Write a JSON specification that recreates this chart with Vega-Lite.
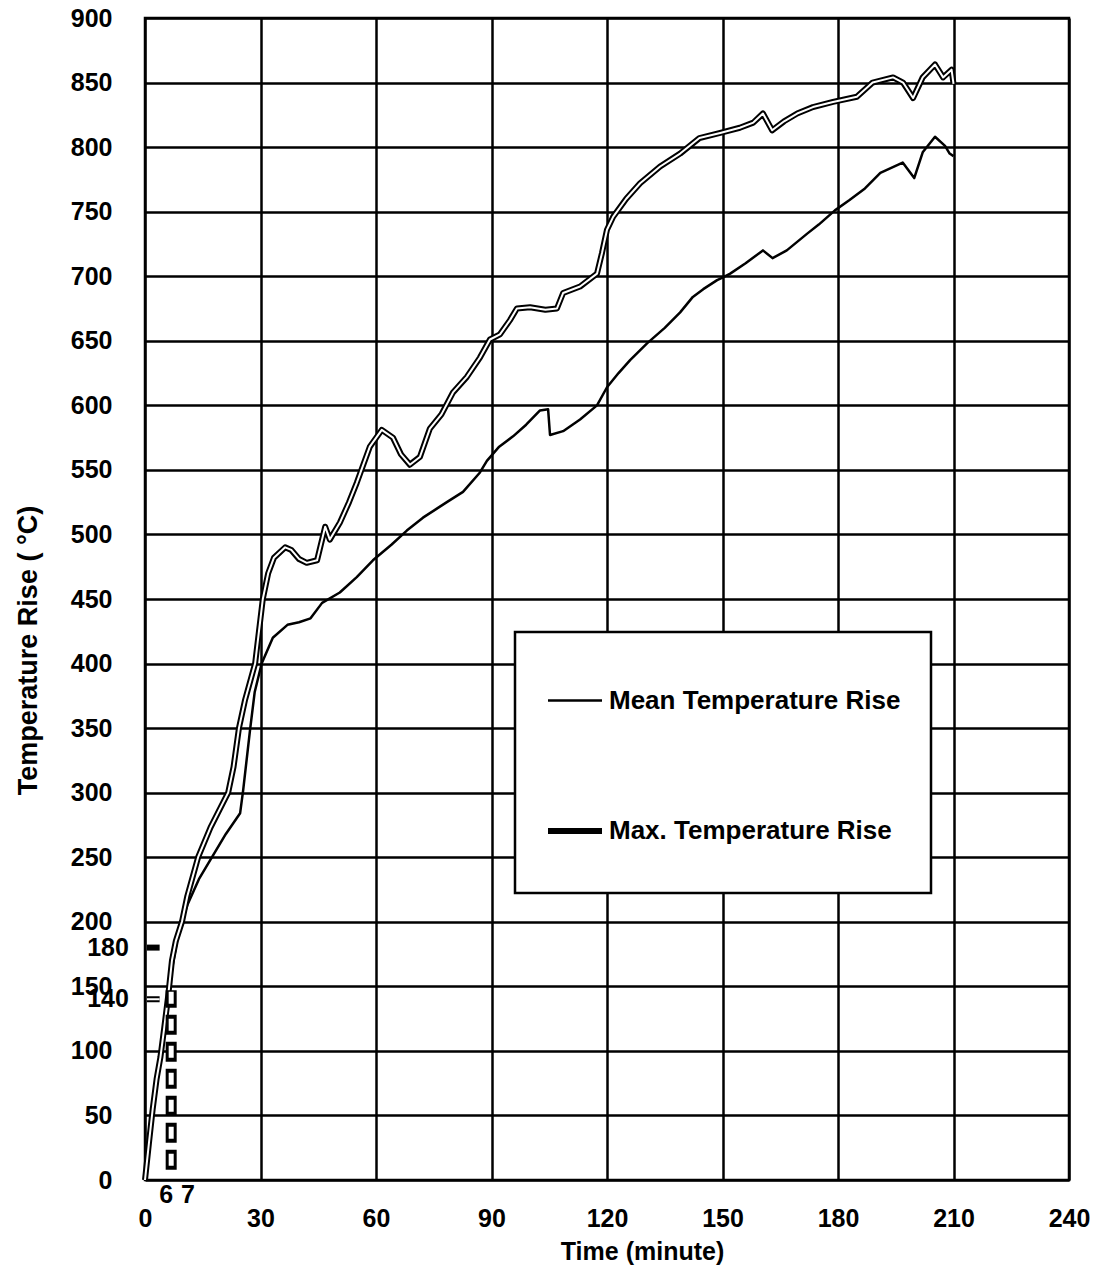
{
  "$schema": "https://vega.github.io/schema/vega-lite/v6.json",
  "width": 924,
  "height": 1162,
  "autosize": {"type": "none"},
  "padding": {"left": 145, "top": 18, "right": 34, "bottom": 91},
  "background": "white",
  "config": {
    "font": "Liberation Sans",
    "view": {"stroke": "black", "strokeWidth": 2.5},
    "axis": {
      "domain": false,
      "ticks": false,
      "grid": true,
      "gridColor": "black",
      "gridWidth": 2.5,
      "gridOpacity": 1,
      "labelFont": "Liberation Sans",
      "labelFontSize": 25,
      "labelFontWeight": "bold",
      "labelColor": "black",
      "labelFlush": false,
      "labelOverlap": false,
      "titleFont": "Liberation Sans",
      "titleFontWeight": "bold",
      "titleColor": "black"
    },
    "legend": {"strokeWidth": 2.5}
  },
  "datasets": {
    "curves": [
      {"s": "Mean Temperature Rise", "t": 0, "v": 0},
      {"s": "Mean Temperature Rise", "t": 1, "v": 25},
      {"s": "Mean Temperature Rise", "t": 2, "v": 50},
      {"s": "Mean Temperature Rise", "t": 3, "v": 72},
      {"s": "Mean Temperature Rise", "t": 4, "v": 95},
      {"s": "Mean Temperature Rise", "t": 5, "v": 118},
      {"s": "Mean Temperature Rise", "t": 6, "v": 140},
      {"s": "Mean Temperature Rise", "t": 7, "v": 163},
      {"s": "Mean Temperature Rise", "t": 8, "v": 180},
      {"s": "Mean Temperature Rise", "t": 9, "v": 195},
      {"s": "Mean Temperature Rise", "t": 11, "v": 213},
      {"s": "Mean Temperature Rise", "t": 14, "v": 233},
      {"s": "Mean Temperature Rise", "t": 17.4, "v": 250},
      {"s": "Mean Temperature Rise", "t": 21, "v": 268},
      {"s": "Mean Temperature Rise", "t": 24.7, "v": 284},
      {"s": "Mean Temperature Rise", "t": 25.5, "v": 302},
      {"s": "Mean Temperature Rise", "t": 27.3, "v": 349},
      {"s": "Mean Temperature Rise", "t": 28.5, "v": 378},
      {"s": "Mean Temperature Rise", "t": 30.3, "v": 400},
      {"s": "Mean Temperature Rise", "t": 33.2, "v": 420},
      {"s": "Mean Temperature Rise", "t": 37, "v": 430},
      {"s": "Mean Temperature Rise", "t": 40, "v": 432},
      {"s": "Mean Temperature Rise", "t": 43, "v": 435},
      {"s": "Mean Temperature Rise", "t": 46, "v": 447},
      {"s": "Mean Temperature Rise", "t": 50.6, "v": 455},
      {"s": "Mean Temperature Rise", "t": 55, "v": 467},
      {"s": "Mean Temperature Rise", "t": 59.2, "v": 480},
      {"s": "Mean Temperature Rise", "t": 64, "v": 492},
      {"s": "Mean Temperature Rise", "t": 68, "v": 503},
      {"s": "Mean Temperature Rise", "t": 72.2, "v": 513},
      {"s": "Mean Temperature Rise", "t": 75.8, "v": 520},
      {"s": "Mean Temperature Rise", "t": 78.4, "v": 525},
      {"s": "Mean Temperature Rise", "t": 82.6, "v": 533},
      {"s": "Mean Temperature Rise", "t": 87, "v": 548},
      {"s": "Mean Temperature Rise", "t": 88.8, "v": 557},
      {"s": "Mean Temperature Rise", "t": 92, "v": 568},
      {"s": "Mean Temperature Rise", "t": 95.6, "v": 576},
      {"s": "Mean Temperature Rise", "t": 99, "v": 585},
      {"s": "Mean Temperature Rise", "t": 102.6, "v": 596},
      {"s": "Mean Temperature Rise", "t": 104.7, "v": 597},
      {"s": "Mean Temperature Rise", "t": 105.2, "v": 577},
      {"s": "Mean Temperature Rise", "t": 108.6, "v": 580},
      {"s": "Mean Temperature Rise", "t": 113, "v": 589},
      {"s": "Mean Temperature Rise", "t": 117.4, "v": 600},
      {"s": "Mean Temperature Rise", "t": 120, "v": 614},
      {"s": "Mean Temperature Rise", "t": 123, "v": 625},
      {"s": "Mean Temperature Rise", "t": 126, "v": 635},
      {"s": "Mean Temperature Rise", "t": 130.4, "v": 648},
      {"s": "Mean Temperature Rise", "t": 135, "v": 660},
      {"s": "Mean Temperature Rise", "t": 139, "v": 672},
      {"s": "Mean Temperature Rise", "t": 142.3, "v": 684},
      {"s": "Mean Temperature Rise", "t": 145, "v": 690},
      {"s": "Mean Temperature Rise", "t": 148.6, "v": 697},
      {"s": "Mean Temperature Rise", "t": 150, "v": 699},
      {"s": "Mean Temperature Rise", "t": 152, "v": 702},
      {"s": "Mean Temperature Rise", "t": 156, "v": 710},
      {"s": "Mean Temperature Rise", "t": 160.5, "v": 720},
      {"s": "Mean Temperature Rise", "t": 163, "v": 714},
      {"s": "Mean Temperature Rise", "t": 166.7, "v": 720},
      {"s": "Mean Temperature Rise", "t": 172, "v": 733},
      {"s": "Mean Temperature Rise", "t": 175, "v": 740},
      {"s": "Mean Temperature Rise", "t": 179.2, "v": 751},
      {"s": "Mean Temperature Rise", "t": 183, "v": 759},
      {"s": "Mean Temperature Rise", "t": 187, "v": 768},
      {"s": "Mean Temperature Rise", "t": 191, "v": 780},
      {"s": "Mean Temperature Rise", "t": 196.8, "v": 788},
      {"s": "Mean Temperature Rise", "t": 199.8, "v": 776},
      {"s": "Mean Temperature Rise", "t": 202, "v": 796},
      {"s": "Mean Temperature Rise", "t": 205.2, "v": 808},
      {"s": "Mean Temperature Rise", "t": 207.8, "v": 801},
      {"s": "Mean Temperature Rise", "t": 209, "v": 795},
      {"s": "Mean Temperature Rise", "t": 210, "v": 793},
      {"s": "Max. Temperature Rise", "t": 0, "v": 0},
      {"s": "Max. Temperature Rise", "t": 1, "v": 28},
      {"s": "Max. Temperature Rise", "t": 2, "v": 55},
      {"s": "Max. Temperature Rise", "t": 3, "v": 78},
      {"s": "Max. Temperature Rise", "t": 4, "v": 95},
      {"s": "Max. Temperature Rise", "t": 5, "v": 118},
      {"s": "Max. Temperature Rise", "t": 6, "v": 142},
      {"s": "Max. Temperature Rise", "t": 7, "v": 170},
      {"s": "Max. Temperature Rise", "t": 8, "v": 185},
      {"s": "Max. Temperature Rise", "t": 9.6, "v": 200},
      {"s": "Max. Temperature Rise", "t": 11, "v": 220},
      {"s": "Max. Temperature Rise", "t": 13.8, "v": 250},
      {"s": "Max. Temperature Rise", "t": 17, "v": 273},
      {"s": "Max. Temperature Rise", "t": 21.6, "v": 300},
      {"s": "Max. Temperature Rise", "t": 23, "v": 320},
      {"s": "Max. Temperature Rise", "t": 24.4, "v": 350},
      {"s": "Max. Temperature Rise", "t": 26, "v": 372},
      {"s": "Max. Temperature Rise", "t": 28.6, "v": 400},
      {"s": "Max. Temperature Rise", "t": 29.8, "v": 430},
      {"s": "Max. Temperature Rise", "t": 30.6, "v": 450},
      {"s": "Max. Temperature Rise", "t": 32, "v": 470},
      {"s": "Max. Temperature Rise", "t": 33.5, "v": 482},
      {"s": "Max. Temperature Rise", "t": 36.4, "v": 490},
      {"s": "Max. Temperature Rise", "t": 38, "v": 488},
      {"s": "Max. Temperature Rise", "t": 40, "v": 481},
      {"s": "Max. Temperature Rise", "t": 42, "v": 478},
      {"s": "Max. Temperature Rise", "t": 44.7, "v": 480},
      {"s": "Max. Temperature Rise", "t": 46.8, "v": 506},
      {"s": "Max. Temperature Rise", "t": 48, "v": 496},
      {"s": "Max. Temperature Rise", "t": 50.6, "v": 509},
      {"s": "Max. Temperature Rise", "t": 53, "v": 525},
      {"s": "Max. Temperature Rise", "t": 55, "v": 540},
      {"s": "Max. Temperature Rise", "t": 58.4, "v": 568},
      {"s": "Max. Temperature Rise", "t": 61.5, "v": 581},
      {"s": "Max. Temperature Rise", "t": 64.4, "v": 575},
      {"s": "Max. Temperature Rise", "t": 66.5, "v": 562},
      {"s": "Max. Temperature Rise", "t": 68.8, "v": 554},
      {"s": "Max. Temperature Rise", "t": 71.4, "v": 560},
      {"s": "Max. Temperature Rise", "t": 74, "v": 582},
      {"s": "Max. Temperature Rise", "t": 77, "v": 593},
      {"s": "Max. Temperature Rise", "t": 80, "v": 610},
      {"s": "Max. Temperature Rise", "t": 83.6, "v": 622},
      {"s": "Max. Temperature Rise", "t": 87, "v": 637},
      {"s": "Max. Temperature Rise", "t": 89.6, "v": 651},
      {"s": "Max. Temperature Rise", "t": 92.2, "v": 655},
      {"s": "Max. Temperature Rise", "t": 94.8, "v": 666},
      {"s": "Max. Temperature Rise", "t": 96.6, "v": 675},
      {"s": "Max. Temperature Rise", "t": 100, "v": 676},
      {"s": "Max. Temperature Rise", "t": 104, "v": 674},
      {"s": "Max. Temperature Rise", "t": 107, "v": 675},
      {"s": "Max. Temperature Rise", "t": 108.6, "v": 687},
      {"s": "Max. Temperature Rise", "t": 113, "v": 692},
      {"s": "Max. Temperature Rise", "t": 117.4, "v": 702},
      {"s": "Max. Temperature Rise", "t": 118.7, "v": 718},
      {"s": "Max. Temperature Rise", "t": 120, "v": 736},
      {"s": "Max. Temperature Rise", "t": 121.6, "v": 746},
      {"s": "Max. Temperature Rise", "t": 125, "v": 760},
      {"s": "Max. Temperature Rise", "t": 128.6, "v": 772},
      {"s": "Max. Temperature Rise", "t": 133.8, "v": 785},
      {"s": "Max. Temperature Rise", "t": 139, "v": 795},
      {"s": "Max. Temperature Rise", "t": 144, "v": 807},
      {"s": "Max. Temperature Rise", "t": 149.4, "v": 811},
      {"s": "Max. Temperature Rise", "t": 154.5, "v": 815},
      {"s": "Max. Temperature Rise", "t": 158, "v": 819},
      {"s": "Max. Temperature Rise", "t": 160.5, "v": 826},
      {"s": "Max. Temperature Rise", "t": 162.9, "v": 813},
      {"s": "Max. Temperature Rise", "t": 166, "v": 820},
      {"s": "Max. Temperature Rise", "t": 169.4, "v": 826},
      {"s": "Max. Temperature Rise", "t": 173.5, "v": 831},
      {"s": "Max. Temperature Rise", "t": 178.7, "v": 835},
      {"s": "Max. Temperature Rise", "t": 184.9, "v": 839},
      {"s": "Max. Temperature Rise", "t": 189, "v": 850},
      {"s": "Max. Temperature Rise", "t": 194.3, "v": 854},
      {"s": "Max. Temperature Rise", "t": 196.9, "v": 850},
      {"s": "Max. Temperature Rise", "t": 199.5, "v": 838},
      {"s": "Max. Temperature Rise", "t": 202, "v": 854},
      {"s": "Max. Temperature Rise", "t": 205.2, "v": 864},
      {"s": "Max. Temperature Rise", "t": 207.3, "v": 854},
      {"s": "Max. Temperature Rise", "t": 209.5, "v": 860},
      {"s": "Max. Temperature Rise", "t": 210, "v": 849}
    ],
    "ymarks": [
      {"t": 0.5, "t2": 3.8, "v": 180, "label": "180"},
      {"t": 0.5, "t2": 3.8, "v": 140, "label": "140"}
    ],
    "xmarks": [
      {"t": 6, "v": 0, "label": "6"},
      {"t": 7, "v": 0, "label": "7"}
    ],
    "dashline": [
      {"t": 6.8, "v": 8, "v2": 147}
    ]
  },
  "encoding": {
    "x": {
      "field": "t",
      "type": "quantitative",
      "scale": {"domain": [0, 240], "nice": false},
      "axis": {
        "values": [0, 30, 60, 90, 120, 150, 180, 210, 240],
        "title": "Time (minute)",
        "titleFontSize": 25,
        "labelPadding": 26,
        "titlePadding": 8,
        "titleX": 497
      }
    },
    "y": {
      "field": "v",
      "type": "quantitative",
      "scale": {"domain": [0, 900], "nice": false},
      "axis": {
        "values": [0, 50, 100, 150, 200, 250, 300, 350, 400, 450, 500, 550, 600, 650, 700, 750, 800, 850, 900],
        "title": "Temperature Rise ( °C)",
        "titleFontSize": 27,
        "labelPadding": 33,
        "titlePadding": 28,
        "titleY": 632
      }
    }
  },
  "layer": [
    {
      "data": {"name": "curves"},
      "mark": {"type": "line", "color": "black", "strokeJoin": "round"},
      "encoding": {
        "strokeWidth": {
          "field": "s",
          "type": "nominal",
          "scale": {"domain": ["Mean Temperature Rise", "Max. Temperature Rise"], "range": [2.5, 6]},
          "legend": {
            "orient": "none",
            "legendX": 370,
            "legendY": 614,
            "title": " ",
            "titleFontSize": 10,
            "titlePadding": 0,
            "symbolType": "M-1,0H1M0,0.74h0",
            "symbolSize": 2916,
            "symbolStrokeColor": "black",
            "symbolFillColor": "transparent",
            "labelFont": "Liberation Sans",
            "labelFontSize": 26,
            "labelFontWeight": "bold",
            "labelColor": "black",
            "labelLimit": 600,
            "labelOffset": 4,
            "padding": 30,
            "rowPadding": 75,
            "strokeColor": "black",
            "fillColor": "white"
          }
        }
      }
    },
    {
      "data": {"name": "curves"},
      "transform": [{"filter": "datum.s === 'Max. Temperature Rise'"}],
      "mark": {"type": "line", "color": "white", "strokeWidth": 2, "strokeJoin": "round"},
      "encoding": {}
    },
    {
      "data": {"name": "ymarks"},
      "mark": {"type": "rule", "color": "black", "strokeWidth": 6},
      "encoding": {"x2": {"field": "t2"}}
    },
    {
      "data": {"name": "ymarks"},
      "transform": [{"filter": "datum.v === 140"}],
      "mark": {"type": "rule", "color": "white", "strokeWidth": 2},
      "encoding": {"x2": {"field": "t2"}}
    },
    {
      "data": {"name": "ymarks"},
      "mark": {"type": "text", "align": "right", "baseline": "middle", "dx": -18, "font": "Liberation Sans", "fontSize": 25, "fontWeight": "bold", "color": "black"},
      "encoding": {"text": {"field": "label"}}
    },
    {
      "data": {"name": "dashline"},
      "mark": {"type": "rule", "color": "black", "strokeWidth": 11, "strokeDash": [20, 7]},
      "encoding": {"y2": {"field": "v2"}}
    },
    {
      "data": {"name": "dashline"},
      "mark": {"type": "rule", "color": "white", "strokeWidth": 5, "strokeDash": [12, 15], "strokeDashOffset": -4},
      "encoding": {"y2": {"field": "v2"}}
    },
    {
      "data": {"name": "xmarks"},
      "transform": [{"filter": "datum.t === 6"}],
      "mark": {"type": "text", "align": "center", "baseline": "middle", "dx": -2, "dy": 15, "font": "Liberation Sans", "fontSize": 25, "fontWeight": "bold", "color": "black"},
      "encoding": {"text": {"field": "label"}}
    },
    {
      "data": {"name": "xmarks"},
      "transform": [{"filter": "datum.t === 7"}],
      "mark": {"type": "text", "align": "center", "baseline": "middle", "dx": 16, "dy": 15, "font": "Liberation Sans", "fontSize": 25, "fontWeight": "bold", "color": "black"},
      "encoding": {"text": {"field": "label"}}
    }
  ]
}
